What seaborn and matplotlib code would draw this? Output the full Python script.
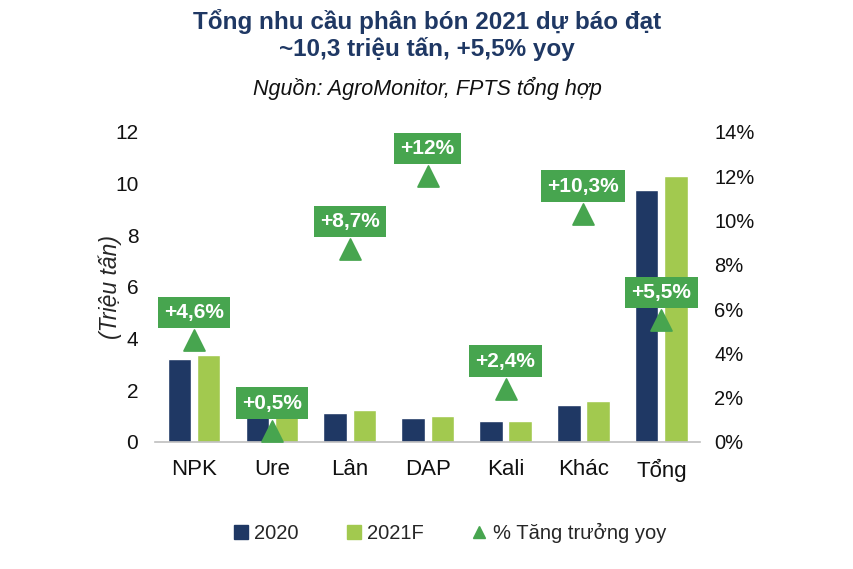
import matplotlib
matplotlib.use("Agg")
import matplotlib.pyplot as plt
from matplotlib.ticker import FuncFormatter
from matplotlib.lines import Line2D
from matplotlib.patches import Patch
import seaborn as sns
import pandas as pd
import numpy as np

categories = ["NPK", "Ure", "Lân", "DAP", "Kali", "Khác", "Tổng"]
v2020 = [3.22, 2.12, 1.12, 0.92, 0.8, 1.44, 9.75]
v2021 = [3.38, 2.13, 1.24, 1.02, 0.83, 1.6, 10.3]
growth = [4.6, 0.5, 8.7, 12.0, 2.4, 10.3, 5.5]
growth_labels = ["+4,6%", "+0,5%", "+8,7%", "+12%", "+2,4%", "+10,3%", "+5,5%"]

NAVY = "#1F3864"
LGREEN = "#A2C94F"
GREEN = "#47A54F"

sns.set_theme(style="white")
plt.rcParams['font.family'] = ['Liberation Sans', 'DejaVu Sans']

df = pd.DataFrame({
    "cat": categories * 2,
    "year": ["2020"] * len(categories) + ["2021F"] * len(categories),
    "val": v2020 + v2021,
})

fig = plt.figure(figsize=(8.54, 5.69), dpi=100)
ax = fig.add_axes([0.1815, 0.2232, 0.6385, 0.545])
sns.barplot(data=df, x="cat", y="val", hue="year", palette=[NAVY, LGREEN],
            width=0.75, gap=0.2, ax=ax, legend=False, saturation=1)
ax.set_xlim(-0.5, 6.5)
ax.set_ylim(0, 12)
ax.set_yticks(range(0, 13, 2))
ax.set_xlabel("")
ax.set_ylabel("(Triệu tấn)", fontsize=16.5, style="italic", labelpad=-5)
for s in ["top", "right", "left"]:
    ax.spines[s].set_visible(False)
ax.spines["bottom"].set_color("#BFBFBF")
ax.spines["bottom"].set_linewidth(1.2)
ax.tick_params(axis="x", labelsize=16, length=0, pad=12)
ax.tick_params(axis="y", labelsize=15, length=0, pad=12)
for t in ax.get_xticklabels() + ax.get_yticklabels():
    t.set_color("#111111")

ax2 = ax.twinx()
gdf = pd.DataFrame({"x": np.arange(len(categories)), "g": growth})
sns.scatterplot(data=gdf, x="x", y="g", marker="^", s=230, color=GREEN,
                edgecolor=GREEN, ax=ax2, legend=False, zorder=5)
ax2.set_ylim(0, 14)
ax2.set_yticks(range(0, 15, 2))
ax2.yaxis.set_major_formatter(FuncFormatter(lambda v, p: f"{int(v)}%"))
ax2.set_ylabel("")
ax2.set_xlabel("")
for s in ["top", "right", "left", "bottom"]:
    ax2.spines[s].set_visible(False)
ax2.tick_params(axis="y", labelsize=14.5, length=0, pad=10)
for t in ax2.get_yticklabels():
    t.set_color("#111111")
ax2.set_xlim(-0.5, 6.5)

for i, (g, lab) in enumerate(zip(growth, growth_labels)):
    ax2.annotate(lab, xy=(i, g), xytext=(0, 20), textcoords="offset points",
                 ha="center", va="center", fontsize=15, fontweight="bold",
                 color="white", zorder=6,
                 bbox=dict(boxstyle="square,pad=0.3", fc=GREEN, ec="none"))

fig.text(0.5, 0.962, "Tổng nhu cầu phân bón 2021 dự báo đạt", ha="center", va="center",
         fontsize=17.5, fontweight="bold", color=NAVY)
fig.text(0.5, 0.914, "~10,3 triệu tấn, +5,5% yoy", ha="center", va="center",
         fontsize=17.5, fontweight="bold", color=NAVY)
fig.text(0.5, 0.845, "Nguồn: AgroMonitor, FPTS tổng hợp", ha="center", va="center",
         fontsize=15.5, style="italic", color="#111111")

handles = [Patch(color=NAVY, label="2020"), Patch(color=LGREEN, label="2021F"),
           Line2D([], [], marker="^", color=GREEN, linestyle="none", markersize=9,
                  label="% Tăng trưởng yoy")]
fig.legend(handles=handles, loc="center", bbox_to_anchor=(0.527, 0.063), ncol=3,
           frameon=False, fontsize=14.5, handlelength=0.7, handleheight=0.7,
           handletextpad=0.3, columnspacing=2.4)

fig.savefig("out.png", dpi=100)
